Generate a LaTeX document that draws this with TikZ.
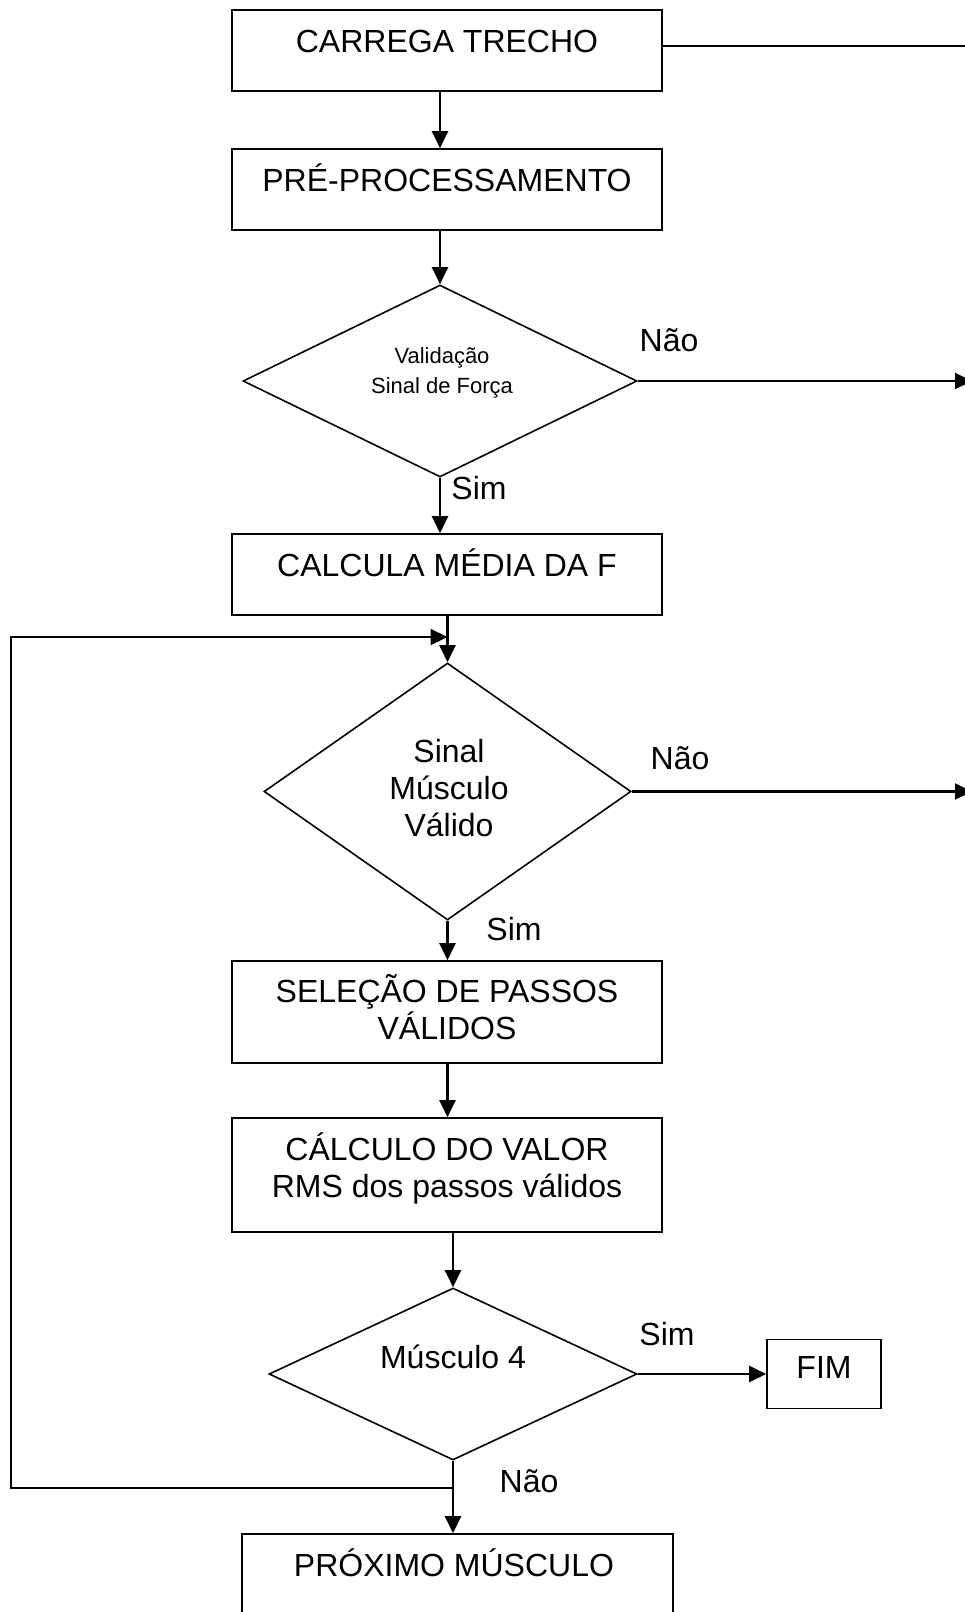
\documentclass[tikz,border=0pt]{standalone}
\usepackage{fontspec}
\setmainfont{Liberation Sans}
\usetikzlibrary{shapes.geometric,arrows.meta}

\begin{document}
\begin{tikzpicture}[x=1pt,y=-1pt,
        box/.style={draw,line width=1.6pt,minimum width=430pt,inner sep=0pt},
        decision/.style={draw,diamond,line width=1.6pt,inner sep=0pt},
        txt/.style={font=\fontsize{32}{37}\selectfont,align=center,inner sep=0pt,anchor=base},
        small/.style={font=\fontsize{22}{30}\selectfont,align=center,inner sep=0pt,anchor=base},
        flow/.style={line width=2.2pt,-{Triangle[length=17pt,width=16pt]}},
        conn/.style={line width=2pt}]
        \useasboundingbox (0,0) rectangle (965,1612);
        % blocos
        \node [box,minimum height=81pt] (carrega) at (447,50.5) {};
        \node [box,minimum height=81pt] (pre) at (447,189.5) {};
        \node [decision,minimum width=394pt,minimum height=192pt] (valforca) at (440,381) {};
        \node [box,minimum height=81pt] (media) at (447,574.5) {};
        \node [decision,minimum width=367pt,minimum height=257pt] (valmusc) at (447.5,791.5) {};
        \node [box,minimum height=102pt] (selecao) at (447,1012) {};
        \node [box,minimum height=114pt] (rms) at (447,1175) {};
        \node [decision,minimum width=368pt,minimum height=172pt] (musc4) at (453,1374) {};
        \node [box,minimum width=114pt,minimum height=69pt] (fim) at (824,1374) {};
        \node [box,minimum width=431pt,minimum height=120pt] (proximo) at (457.5,1594) {};
        % textos
        \node [txt] (carrega-t) at (447,52) {CARREGA TRECHO};
        \node [txt] (pre-t) at (447,191) {PRÉ-PROCESSAMENTO};
        \node [small] (valforca-t) at (442,393.5) {Validação\\Sinal de Força};
        \node [txt] (media-t) at (447,576.5) {CALCULA MÉDIA DA F};
        \node [txt] (valmusc-t) at (449,836.5) {Sinal\\Músculo\\Válido};
        \node [txt] (selecao-t) at (447,1039) {SELEÇÃO DE PASSOS\\VÁLIDOS};
        \node [txt] (rms-t) at (447,1197) {CÁLCULO DO VALOR\\RMS dos passos válidos};
        \node [txt] (musc4-t) at (453,1368) {Músculo 4};
        \node [txt] (fim-t) at (824,1378) {FIM};
        \node [txt] (proximo-t) at (454,1576) {PRÓXIMO MÚSCULO};
        % sim / nao
        \node [txt] (nao1) at (669,351.5) {Não};
        \node [txt] (sim1) at (479,499.5) {Sim};
        \node [txt] (nao2) at (680,769) {Não};
        \node [txt] (sim2) at (514,940) {Sim};
        \node [txt] (sim3) at (667,1345) {Sim};
        \node [txt] (nao3) at (529,1492) {Não};
        % ligacoes
        \coordinate (borda) at (972,0);
        \coordinate (volta) at (11,1488);
        \coordinate (retorno) at (11,637);
        \draw [conn] ([yshift=4.5pt]carrega.east) -- ([yshift=4.5pt]carrega.east -| borda);
        \draw [flow] (carrega.south -| valforca.north) -- (pre.north -| valforca.north);
        \draw [flow] (pre.south -| valforca.north) -- (valforca.north);
        \draw [flow] (valforca.east) -- (valforca.east -| borda);
        \draw [flow] (valforca.south) -- (media.north -| valforca.south);
        \draw [flow] (media.south -| valmusc.north) -- (valmusc.north);
        \draw [flow] (valmusc.east) -- (valmusc.east -| borda);
        \draw [flow] (valmusc.south) -- (selecao.north -| valmusc.south);
        \draw [flow] (selecao.south -| valmusc.south) -- (rms.north -| valmusc.south);
        \draw [flow] (rms.south -| musc4.north) -- (musc4.north);
        \draw [flow] (musc4.east) -- (fim.west);
        \draw [flow] (musc4.south) -- (proximo.north -| musc4.south);
        \draw [flow] (musc4.south |- volta) -- (volta) -- (retorno) -- (retorno -| valmusc.north);
\end{tikzpicture}
\end{document}
